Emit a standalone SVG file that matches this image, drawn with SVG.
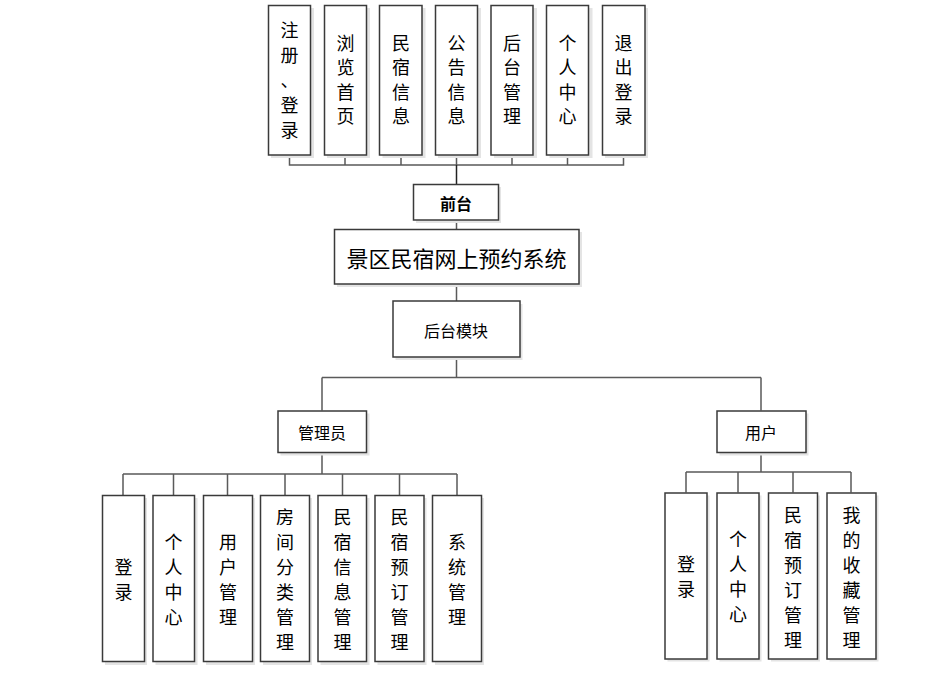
<svg xmlns="http://www.w3.org/2000/svg" width="946" height="677" viewBox="0 0 946 677">
<style>
.box{fill:#fff;stroke:#3a3a3a;stroke-width:1.5}
.sh{fill:#e4e4e4;stroke:none}
.ln{fill:none;stroke:#5a5a5a;stroke-width:1.5}
.v{font-family:"Noto Sans CJK SC","Liberation Sans",sans-serif;font-size:18px;fill:#000;text-anchor:middle;dominant-baseline:central}
.h{font-family:"Noto Sans CJK SC","Liberation Sans",sans-serif;font-size:16px;fill:#000;text-anchor:middle;dominant-baseline:central}
</style>
<rect width="946" height="677" fill="#fff"/>
<g id="connectors">
<path class="ln" d="M289.5 155V165H623.5V155M345 155V165M401 155V165M456.5 155V165M512 155V165M567.5 155V165"/>
<path class="ln" d="M456.5 165V184.5" style="stroke:#222"/>
<path class="ln" d="M456.5 220V229.5M456.5 284V301M456.5 357V377.5M322 377.5H761M322 377.5V410.5M761 377.5V410.5"/>
<path class="ln" d="M322 452.5V474M123 474H457M123 474V495M173.5 474V495M227.5 474V495M285 474V495M342.5 474V495M399.5 474V495M457 474V495"/>
<path class="ln" d="M761 452.5V472M686 472H851M686 472V492.5M738 472V492.5M793 472V492.5M851 472V492.5"/>
</g>
<g id="top-register"><rect class="sh" x="271" y="8" width="43" height="150"/><rect class="box" x="268.5" y="5.5" width="42" height="149.5"/><text class="v" x="289.5"><tspan x="289.5" y="28.5">注</tspan><tspan x="289.5" y="53.5">册</tspan><tspan x="289.5" y="78.5">、</tspan><tspan x="289.5" y="103.5">登</tspan><tspan x="289.5" y="128.5">录</tspan></text></g>
<g id="top-browse"><rect class="sh" x="327" y="8" width="43" height="150"/><rect class="box" x="324.5" y="5.5" width="42" height="149.5"/><text class="v"><tspan x="345.5" y="41.5">浏</tspan><tspan x="345.5" y="66">览</tspan><tspan x="345.5" y="90.5">首</tspan><tspan x="345.5" y="115">页</tspan></text></g>
<g id="top-homestay"><rect class="sh" x="382.5" y="8" width="43" height="150"/><rect class="box" x="379.5" y="5.5" width="42.5" height="149.5"/><text class="v"><tspan x="401" y="41.5">民</tspan><tspan x="401" y="66">宿</tspan><tspan x="401" y="90.5">信</tspan><tspan x="401" y="115">息</tspan></text></g>
<g id="top-notice"><rect class="sh" x="438" y="8" width="43" height="150"/><rect class="box" x="435.5" y="5.5" width="42" height="149.5"/><text class="v"><tspan x="456.5" y="41.5">公</tspan><tspan x="456.5" y="66">告</tspan><tspan x="456.5" y="90.5">信</tspan><tspan x="456.5" y="115">息</tspan></text></g>
<g id="top-admin"><rect class="sh" x="494" y="8" width="43" height="150"/><rect class="box" x="491" y="5.5" width="42" height="149.5"/><text class="v"><tspan x="512" y="41.5">后</tspan><tspan x="512" y="66">台</tspan><tspan x="512" y="90.5">管</tspan><tspan x="512" y="115">理</tspan></text></g>
<g id="top-center"><rect class="sh" x="549.5" y="8" width="43" height="150"/><rect class="box" x="546.5" y="5.5" width="42" height="149.5"/><text class="v"><tspan x="567.5" y="41.5">个</tspan><tspan x="567.5" y="66">人</tspan><tspan x="567.5" y="90.5">中</tspan><tspan x="567.5" y="115">心</tspan></text></g>
<g id="top-logout"><rect class="sh" x="605" y="8" width="43" height="150"/><rect class="box" x="602.5" y="5.5" width="42.5" height="149.5"/><text class="v"><tspan x="623.5" y="41.5">退</tspan><tspan x="623.5" y="66">出</tspan><tspan x="623.5" y="90.5">登</tspan><tspan x="623.5" y="115">录</tspan></text></g>
<g id="frontend"><rect class="sh" x="416" y="187" width="85" height="36"/><rect class="box" x="413.5" y="184.5" width="85" height="35.5"/><text class="h" x="456" y="202.5" font-weight="bold">前台</text></g>
<g id="system"><rect class="sh" x="337" y="232" width="245" height="55"/><rect class="box" x="334.5" y="229.5" width="244.5" height="54.5"/><text class="h" x="456.5" y="257" style="font-size:22px">景区民宿网上预约系统</text></g>
<g id="backend"><rect class="sh" x="395.5" y="304" width="127" height="56"/><rect class="box" x="393" y="301" width="127" height="56"/><text class="h" x="456" y="329.5">后台模块</text></g>
<g id="administrator"><rect class="sh" x="280.5" y="413.5" width="89" height="42"/><rect class="box" x="278" y="411" width="88.5" height="41.5"/><text class="h" x="322" y="432">管理员</text></g>
<g id="user"><rect class="sh" x="719.5" y="413.5" width="89" height="42"/><rect class="box" x="717" y="411" width="89" height="41.5"/><text class="h" x="761" y="432">用户</text></g>
<g id="admin-login"><rect class="sh" x="105" y="498" width="42" height="167"/><rect class="box" x="102.5" y="495.5" width="42" height="166"/><text class="v"><tspan x="123.5" y="565.5">登</tspan><tspan x="123.5" y="590.5">录</tspan></text></g>
<g id="admin-center"><rect class="sh" x="155.5" y="498" width="42" height="167"/><rect class="box" x="153" y="495.5" width="41.5" height="166"/><text class="v"><tspan x="173.5" y="540.5">个</tspan><tspan x="173.5" y="565.5">人</tspan><tspan x="173.5" y="590.5">中</tspan><tspan x="173.5" y="615.5">心</tspan></text></g>
<g id="admin-users"><rect class="sh" x="206" y="498" width="49" height="167"/><rect class="box" x="203.5" y="495.5" width="49" height="166"/><text class="v"><tspan x="228" y="540.5">用</tspan><tspan x="228" y="565.5">户</tspan><tspan x="228" y="590.5">管</tspan><tspan x="228" y="615.5">理</tspan></text></g>
<g id="admin-roomtype"><rect class="sh" x="263" y="498" width="49" height="167"/><rect class="box" x="260.5" y="495.5" width="49" height="166"/><text class="v"><tspan x="285" y="516">房</tspan><tspan x="285" y="541">间</tspan><tspan x="285" y="566">分</tspan><tspan x="285" y="591">类</tspan><tspan x="285" y="616">管</tspan><tspan x="285" y="641">理</tspan></text></g>
<g id="admin-homestay"><rect class="sh" x="320.5" y="498" width="49" height="167"/><rect class="box" x="318" y="495.5" width="48.5" height="166"/><text class="v"><tspan x="342.5" y="516">民</tspan><tspan x="342.5" y="541">宿</tspan><tspan x="342.5" y="566">信</tspan><tspan x="342.5" y="591">息</tspan><tspan x="342.5" y="616">管</tspan><tspan x="342.5" y="641">理</tspan></text></g>
<g id="admin-booking"><rect class="sh" x="377.5" y="498" width="49" height="167"/><rect class="box" x="375" y="495.5" width="49" height="166"/><text class="v"><tspan x="399.5" y="516">民</tspan><tspan x="399.5" y="541">宿</tspan><tspan x="399.5" y="566">预</tspan><tspan x="399.5" y="591">订</tspan><tspan x="399.5" y="616">管</tspan><tspan x="399.5" y="641">理</tspan></text></g>
<g id="admin-system"><rect class="sh" x="435" y="498" width="49" height="167"/><rect class="box" x="432.5" y="495.5" width="49" height="166"/><text class="v"><tspan x="457" y="540.5">系</tspan><tspan x="457" y="565.5">统</tspan><tspan x="457" y="590.5">管</tspan><tspan x="457" y="615.5">理</tspan></text></g>
<g id="user-login"><rect class="sh" x="667.5" y="495.5" width="42" height="166"/><rect class="box" x="665" y="493" width="42" height="166"/><text class="v"><tspan x="686" y="563">登</tspan><tspan x="686" y="588">录</tspan></text></g>
<g id="user-center"><rect class="sh" x="719.5" y="495.5" width="42" height="166"/><rect class="box" x="717" y="493" width="42" height="166"/><text class="v"><tspan x="738" y="538">个</tspan><tspan x="738" y="563">人</tspan><tspan x="738" y="588">中</tspan><tspan x="738" y="613">心</tspan></text></g>
<g id="user-booking"><rect class="sh" x="771" y="495.5" width="49" height="166"/><rect class="box" x="768.5" y="493" width="49" height="166"/><text class="v"><tspan x="793" y="513.5">民</tspan><tspan x="793" y="538.5">宿</tspan><tspan x="793" y="563.5">预</tspan><tspan x="793" y="588.5">订</tspan><tspan x="793" y="613.5">管</tspan><tspan x="793" y="638.5">理</tspan></text></g>
<g id="user-favorites"><rect class="sh" x="829.5" y="495.5" width="49" height="166"/><rect class="box" x="827" y="493" width="49" height="166"/><text class="v"><tspan x="851.5" y="513.5">我</tspan><tspan x="851.5" y="538.5">的</tspan><tspan x="851.5" y="563.5">收</tspan><tspan x="851.5" y="588.5">藏</tspan><tspan x="851.5" y="613.5">管</tspan><tspan x="851.5" y="638.5">理</tspan></text></g>
</svg>
